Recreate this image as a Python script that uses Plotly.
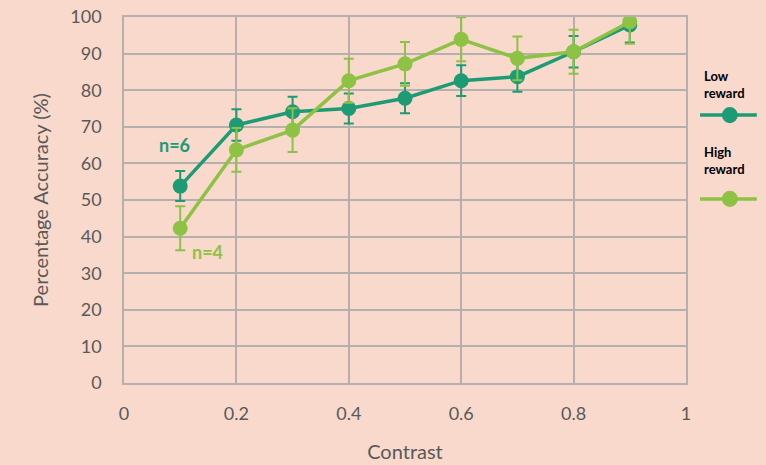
import plotly.graph_objects as go

contrast = [0.1, 0.2, 0.3, 0.4, 0.5, 0.6, 0.7, 0.8, 0.9]
low_reward = [53.8, 70.5, 74.1, 75.0, 77.8, 82.6, 83.7, 90.5, 97.8]
low_err = [4.1, 4.3, 4.1, 4.1, 4.1, 4.2, 4.1, 4.3, 4.8]
high_reward = [42.3, 63.7, 69.1, 82.6, 87.2, 93.9, 88.7, 90.5, 98.7]
high_err = [6.0, 6.0, 6.0, 6.0, 6.0, 6.0, 6.0, 6.0, 6.0]
x_ticks = [0, 0.2, 0.4, 0.6, 0.8, 1]
x_labels = ["0", "0.2", "0.4", "0.6", "0.8", "1"]
y_ticks = list(range(0, 101, 10))

DARK = "#1d9b75"
LIGHT = "#8dc244"
BG = "#f8d9cc"
GRID = "#b5b0ad"
FONT = "Lato"

fig = go.Figure()
fig.add_trace(go.Scatter(
    x=contrast, y=low_reward, mode="lines+markers", name="Low reward",
    line=dict(color=DARK, width=3.5), marker=dict(color=DARK, size=15),
    error_y=dict(type="data", array=low_err, color=DARK, thickness=2, width=5),
    showlegend=False))
fig.add_trace(go.Scatter(
    x=contrast, y=high_reward, mode="lines+markers", name="High reward",
    line=dict(color=LIGHT, width=3.5), marker=dict(color=LIGHT, size=15),
    error_y=dict(type="data", array=high_err, color=LIGHT, thickness=2, width=5),
    showlegend=False))

# annotations
fig.add_annotation(x=0.089, y=65, text="<b>n=6</b>", showarrow=False,
                   font=dict(family=FONT, size=18, color=DARK))
fig.add_annotation(x=0.148, y=35.8, text="<b>n=4</b>", showarrow=False,
                   font=dict(family=FONT, size=18, color=LIGHT))

# manual legend
legend = [("Low<br>reward", DARK, 0.815, 0.732), ("High<br>reward", LIGHT, 0.607, 0.503)]
for text, col, ty, ly in legend:
    fig.add_annotation(xref="paper", yref="paper", x=1.028, y=ty, xanchor="left",
                       yanchor="middle", text="<b>" + text + "</b>", showarrow=False,
                       align="left", font=dict(family=FONT, size=13, color="#000000"))
    fig.add_shape(type="line", xref="paper", yref="paper", x0=1.025, x1=1.126,
                  y0=ly, y1=ly, line=dict(color=col, width=3.5))
    fig.add_shape(type="circle", xref="paper", yref="paper",
                  x0=1.078 - 0.0142, x1=1.078 + 0.0142, y0=ly - 0.022, y1=ly + 0.022,
                  fillcolor=col, line=dict(color=col, width=0))

fig.update_layout(
    width=766, height=465,
    paper_bgcolor=BG, plot_bgcolor=BG,
    margin=dict(l=124, r=80, t=17, b=82),
    font=dict(family=FONT, color="#595959"),
)
fig.update_xaxes(range=[0, 1], tickvals=x_ticks, ticktext=x_labels, automargin=False,
                 showgrid=True, gridcolor=GRID, gridwidth=1.5,
                 showline=True, linecolor=GRID, linewidth=1.5, mirror=True,
                 zeroline=False, ticks="", ticklabelstandoff=14, ticklabeloverflow="allow",
                 tickfont=dict(size=18, color="#595959"),
                 title=dict(text="Contrast", font=dict(size=20, color="#595959"), standoff=22))
fig.update_yaxes(range=[0, 100], tickvals=y_ticks, automargin=False,
                 showgrid=True, gridcolor=GRID, gridwidth=1.5,
                 showline=True, linecolor=GRID, linewidth=1.5, mirror=True,
                 zeroline=False, ticks="", ticklabelstandoff=17, ticklabeloverflow="allow",
                 tickfont=dict(size=18, color="#595959"),
                 title=dict(text="Percentage Accuracy (%)", font=dict(size=20, color="#595959"), standoff=16))

fig.write_html("out.html", config={"displayModeBar": False},
               post_script="document.body.style.margin='0';document.body.style.background='" + BG + "';")
